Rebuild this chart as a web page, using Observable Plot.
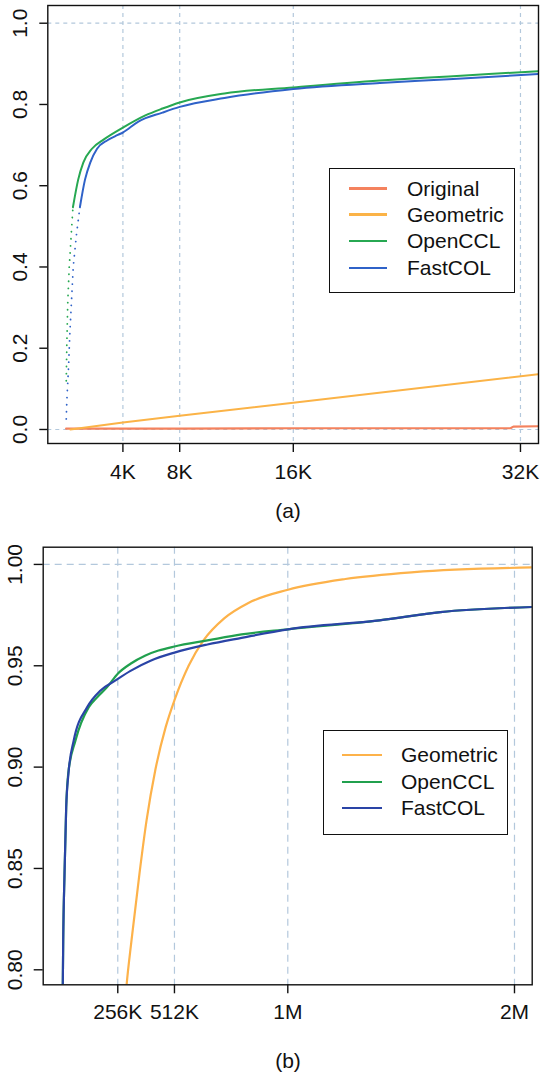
<!DOCTYPE html>
<html>
<head>
<meta charset="utf-8">
<script src="https://cdn.jsdelivr.net/npm/d3@7"></script>
<script src="https://cdn.jsdelivr.net/npm/@observablehq/plot@0.6"></script>
<style>
  html, body { margin: 0; padding: 0; background: #ffffff; }
  #page { position: relative; width: 540px; height: 1074px; font-family: "Liberation Sans", Arial, Helvetica, sans-serif; overflow: hidden; }
  .panel { position: absolute; left: 0; }
  .caption { position: absolute; font-size: 21px; line-height: 21px; transform: translateX(-50%); color: #111; }
  .legend { position: absolute; border: 1.4px solid #111; background: #fff; box-sizing: border-box; }
  .legend .sw { position: absolute; height: 0; }
  .legend .lab { position: absolute; white-space: nowrap; line-height: 24px; color: #111; }
</style>
</head>
<body>
<div id="page"></div>
<script>
// ---------- Panel (a) data: x in thousands (K), y = fraction ----------
const aTickX = [4, 8, 16, 32];
const aTickXLabels = ["4K", "8K", "16K", "32K"];
const aTickY = [0, 0.2, 0.4, 0.6, 0.8, 1.0];
const aTickYLabels = ["0.0", "0.2", "0.4", "0.6", "0.8", "1.0"];

const aOriginalX = [0, 8, 16, 24, 31.3, 31.5, 33.27];
const aOriginalY = [0.002, 0.002, 0.003, 0.003, 0.003, 0.007, 0.008];

const aGeometricX = [0.3, 4, 8, 16, 33.27];
const aGeometricY = [0.0, 0.017, 0.034, 0.066, 0.136];

const aOpenDotX = [0.01, 0.05, 0.12, 0.22, 0.36, 0.48];
const aOpenDotY = [0.12, 0.21, 0.317, 0.40, 0.48, 0.547];
const aOpenX = [0.48, 0.85, 1.21, 1.82, 2.66, 4.0, 5.58, 6.79, 8.0, 11.15, 16.0, 22.1, 26.95, 33.27];
const aOpenY = [0.547, 0.615, 0.657, 0.691, 0.714, 0.743, 0.773, 0.790, 0.805, 0.827, 0.842, 0.859, 0.869, 0.882];

const aFastDotX = [0.01, 0.05, 0.17, 0.26, 0.38, 0.5, 0.73, 0.97];
const aFastDotY = [0.026, 0.071, 0.153, 0.235, 0.317, 0.40, 0.48, 0.547];
const aFastX = [0.97, 1.33, 1.7, 2.18, 2.91, 3.64, 4.0, 5.09, 6.79, 8.0, 11.15, 16.0, 22.1, 26.95, 33.27];
const aFastY = [0.547, 0.615, 0.657, 0.691, 0.712, 0.725, 0.731, 0.758, 0.780, 0.794, 0.816, 0.838, 0.853, 0.862, 0.875];

// ---------- Panel (b) data ----------
const bTickX = [256, 512, 1024, 2048];
const bTickXLabels = ["256K", "512K", "1M", "2M"];
const bTickY = [0.80, 0.85, 0.90, 0.95, 1.00];
const bTickYLabels = ["0.80", "0.85", "0.90", "0.95", "1.00"];

const bGeometricX = [290, 296, 318, 354, 386, 426, 472, 512, 576, 643, 738, 846, 1025, 1284, 1595, 2128];
const bGeometricY = [0.785, 0.7927, 0.8145, 0.8475, 0.8737, 0.8988, 0.9196, 0.933, 0.950, 0.9625, 0.9735, 0.9810, 0.9875, 0.9928, 0.9962, 0.9985];

const bOpenX = [7, 9.5, 15.4, 23, 32, 65, 125, 163, 208, 256, 313.5, 381, 440, 512, 661, 815, 1025, 1438, 1714, 2128];
const bOpenY = [0.785, 0.8145, 0.8474, 0.8802, 0.8967, 0.9132, 0.9296, 0.9345, 0.9395, 0.9461, 0.951, 0.9551, 0.9575, 0.9595, 0.9625, 0.9655, 0.9680, 0.9724, 0.9765, 0.979];

const bFastX = [7, 9.5, 15.4, 23, 33, 57, 118, 178, 246, 313.5, 404, 512, 661, 815, 1025, 1438, 1714, 2128];
const bFastY = [0.785, 0.8145, 0.8474, 0.8802, 0.8967, 0.9132, 0.9296, 0.9378, 0.9428, 0.9475, 0.9525, 0.9565, 0.9605, 0.9638, 0.9680, 0.9724, 0.9765, 0.979];

// ---------- styles ----------
const colA = { Original: "#f4825e", Geometric: "#fbb347", OpenCCL: "#27a852", FastCOL: "#2f62c8" };
const colB = { Geometric: "#fdb24a", OpenCCL: "#21a04e", FastCOL: "#2a44a6" };
const gridCol = "#b3c8dc";
const FONT = "'Liberation Sans', Arial, Helvetica, sans-serif";

const zip = (xs, ys) => xs.map((x, i) => ({ x, y: ys[i] }));
const fmt = (vals, labels) => d => { const i = vals.indexOf(d); return i >= 0 ? labels[i] : ""; };

const page = document.getElementById("page");

// ---------- Panel (a) ----------
const plotA = Plot.plot({
  width: 540, height: 490,
  marginTop: 5, marginBottom: 47, marginLeft: 47.3, marginRight: 2,
  style: { fontFamily: FONT, fontSize: "21px", background: "transparent", color: "#111" },
  x: { domain: [-1.29, 33.27], axis: null },
  y: { domain: [-0.0345, 1.0436], axis: null },
  marks: [
    Plot.ruleX(aTickX, { stroke: gridCol, strokeWidth: 1.2, strokeDasharray: "4,4" }),
    Plot.ruleY([0, 1], { stroke: gridCol, strokeWidth: 1.2, strokeDasharray: "4,4" }),
    Plot.line(zip(aOriginalX, aOriginalY), { x: "x", y: "y", stroke: colA.Original, strokeWidth: 2.2, clip: true }),
    Plot.line(zip(aGeometricX, aGeometricY), { x: "x", y: "y", stroke: colA.Geometric, strokeWidth: 2, clip: true }),
    Plot.line(zip(aOpenDotX, aOpenDotY), { x: "x", y: "y", stroke: colA.OpenCCL, strokeWidth: 1.8, strokeDasharray: "0.1,7", strokeLinecap: "round", clip: true }),
    Plot.line(zip(aFastDotX, aFastDotY), { x: "x", y: "y", stroke: colA.FastCOL, strokeWidth: 1.8, strokeDasharray: "0.1,7", strokeLinecap: "round", clip: true }),
    Plot.line(zip(aOpenX, aOpenY), { x: "x", y: "y", stroke: colA.OpenCCL, strokeWidth: 2, curve: "monotone-x", clip: true }),
    Plot.line(zip(aFastX, aFastY), { x: "x", y: "y", stroke: colA.FastCOL, strokeWidth: 2, curve: "monotone-x", clip: true }),
    Plot.frame({ stroke: "#111", strokeWidth: 1.4 }),
    Plot.axisX(aTickX, { tickSize: 9, tickPadding: 12, tickFormat: fmt(aTickX, aTickXLabels), fontSize: 21, stroke: "#111", strokeWidth: 1.4, label: null }),
    Plot.axisY(aTickY, { tickSize: 8, tickFormat: () => "", stroke: "#111", strokeWidth: 1.4, label: null }),
    Plot.text(aTickY, { y: d => d, text: fmt(aTickY, aTickYLabels), frameAnchor: "left", dx: -28, rotate: -90, textAnchor: "middle", lineAnchor: "middle", fontSize: 21, fill: "#111" })
  ]
});
const divA = document.createElement("div");
divA.className = "panel"; divA.style.top = "0px";
divA.appendChild(plotA);
page.appendChild(divA);

// ---------- Panel (b) ----------
const plotB = Plot.plot({
  width: 540, height: 510,
  marginTop: 16.7, marginBottom: 55.7, marginLeft: 42.7, marginRight: 8.3,
  style: { fontFamily: FONT, fontSize: "21px", background: "transparent", color: "#111" },
  x: { domain: [-80.9, 2128], axis: null },
  y: { domain: [0.7926, 1.0085], axis: null },
  marks: [
    Plot.ruleX(bTickX, { stroke: gridCol, strokeWidth: 1.2, strokeDasharray: "7,5" }),
    Plot.ruleY([1], { stroke: gridCol, strokeWidth: 1.2, strokeDasharray: "7,5" }),
    Plot.line(zip(bGeometricX, bGeometricY), { x: "x", y: "y", stroke: colB.Geometric, strokeWidth: 2.2, curve: "monotone-x", clip: true }),
    Plot.line(zip(bOpenX, bOpenY), { x: "x", y: "y", stroke: colB.OpenCCL, strokeWidth: 2.2, curve: "monotone-x", clip: true }),
    Plot.line(zip(bFastX, bFastY), { x: "x", y: "y", stroke: colB.FastCOL, strokeWidth: 2.2, curve: "monotone-x", clip: true }),
    Plot.frame({ stroke: "#111", strokeWidth: 1.4 }),
    Plot.axisX(bTickX, { tickSize: 9, tickPadding: 10, tickFormat: fmt(bTickX, bTickXLabels), fontSize: 21, stroke: "#111", strokeWidth: 1.4, label: null }),
    Plot.axisY(bTickY, { tickSize: 9, tickFormat: () => "", stroke: "#111", strokeWidth: 1.4, label: null }),
    Plot.text(bTickY, { y: d => d, text: fmt(bTickY, bTickYLabels), frameAnchor: "left", dx: -28, rotate: -90, textAnchor: "middle", lineAnchor: "middle", fontSize: 21, fill: "#111" })
  ]
});
const divB = document.createElement("div");
divB.className = "panel"; divB.style.top = "530px";
divB.appendChild(plotB);
page.appendChild(divB);

// ---------- Captions ----------
function caption(text, cx, top) {
  const d = document.createElement("div");
  d.className = "caption";
  d.textContent = text;
  d.style.left = cx + "px";
  d.style.top = top + "px";
  page.appendChild(d);
}
caption("(a)", 288, 500);
caption("(b)", 288, 1050);

// ---------- Legends ----------
const legendANames = ["Original", "Geometric", "OpenCCL", "FastCOL"];
const legendBNames = ["Geometric", "OpenCCL", "FastCOL"];
function legend(names, colors, box, rows, swX, swW, txtX, widths) {
  const lg = document.createElement("div");
  lg.className = "legend";
  lg.style.left = box.x + "px"; lg.style.top = box.y + "px";
  lg.style.width = box.w + "px"; lg.style.height = box.h + "px";
  names.forEach((n, i) => {
    const cy = rows[i] - box.y;
    const sw = document.createElement("div");
    sw.className = "sw";
    sw.style.left = (swX - box.x) + "px";
    sw.style.width = swW + "px";
    sw.style.top = (cy - widths[i] / 2 - 1.4) + "px";
    sw.style.borderTop = widths[i] + "px solid " + colors[n];
    lg.appendChild(sw);
    const t = document.createElement("div");
    t.className = "lab";
    t.textContent = n;
    t.style.fontSize = "21px";
    t.style.left = (txtX - box.x) + "px";
    t.style.top = (cy - 12 - 1.4) + "px";
    lg.appendChild(t);
  });
  page.appendChild(lg);
}
legend(legendANames, colA, { x: 329, y: 168, w: 186, h: 125 }, [189, 215, 241.5, 268], 348, 38, 406, [3, 3, 2, 2.2]);
legend(legendBNames, colB, { x: 323, y: 730, w: 185, h: 105 }, [755.5, 782, 808.5], 341, 40, 400, [2, 2.2, 2.2]);
</script>
</body>
</html>
